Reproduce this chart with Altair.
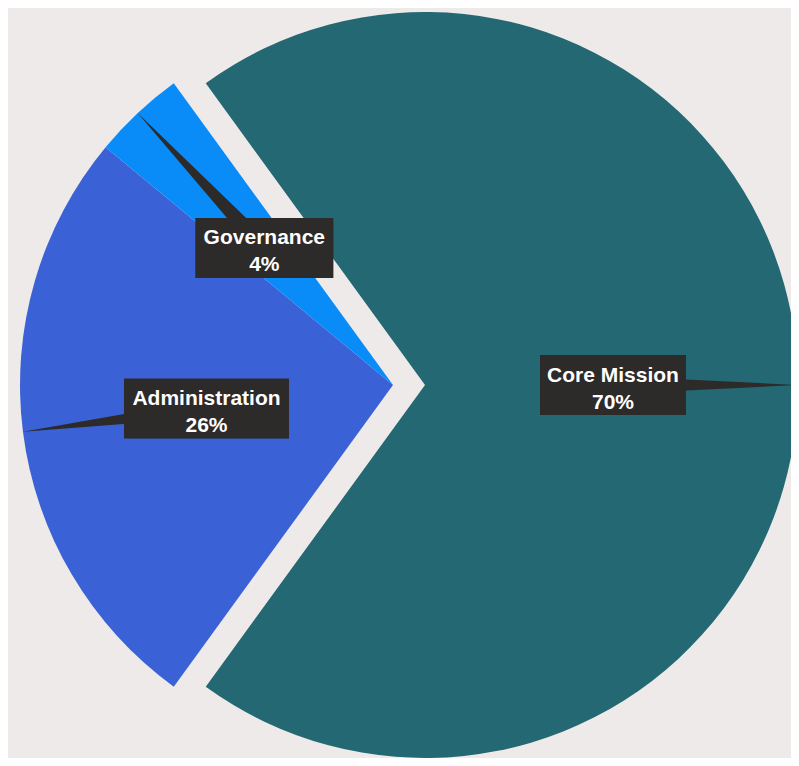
import math
import altair as alt
import pandas as pd

# ---- data ----
categories = ["Core Mission", "Administration", "Governance"]
shares = [0.70, 0.26, 0.04]
order = [0, 1, 2]

df = pd.DataFrame({"category": categories, "share": shares, "order": order})

# ---- layout / style ----
W, H = 783, 750
CX, CY = 385, 377
R = 373
LABEL_R = 188
EXPLODE = 32
TAIL_LEN = R - LABEL_R
START = -math.radians(36)
TWO_PI = 2 * math.pi
colors = ["#236872", "#3a62d6", "#0a8cf8"]
BOX = "#2d2a2a"
BG = "#eeeaea"
BOX_H = 60
LINE_H = 27

box_w_expr = ("datum.category == 'Core Mission' ? 146 : "
              "datum.category == 'Administration' ? 165 : 138")

base = (
    alt.Chart(df)
    .transform_window(cum="sum(share)", sort=[alt.SortField("order")], frame=[None, 0])
    .transform_calculate(t0="datum.cum - datum.share", t1="datum.cum")
    .transform_calculate(mid=f"{START} + {TWO_PI} * (datum.cum - datum.share / 2)")
    .transform_calculate(ex=f"datum.category == 'Core Mission' ? {EXPLODE} : 0")
    .transform_calculate(cx=f"{CX} + datum.ex * sin(datum.mid)")
    .transform_calculate(cy=f"{CY} - datum.ex * cos(datum.mid)")
    .transform_calculate(lx=f"datum.cx + {LABEL_R} * sin(datum.mid)")
    .transform_calculate(ly=f"datum.cy - {LABEL_R} * cos(datum.mid)")
    .transform_calculate(deg="((datum.mid * 180 / PI) % 360 + 360) % 360")
    .transform_calculate(bw=box_w_expr)
    .transform_calculate(bx0="datum.lx - datum.bw / 2", bx1="datum.lx + datum.bw / 2")
    .transform_calculate(by0=f"datum.ly - {BOX_H / 2}", by1=f"datum.ly + {BOX_H / 2}")
    .transform_calculate(txt="datum.category + '\\n' + format(datum.share, '.0%')")
)

xs = alt.Scale(domain=[0, W], range=[0, W], nice=False, zero=False)
ys = alt.Scale(domain=[0, H], range=[0, H], nice=False, zero=False)

arcs = base.mark_arc(outerRadius=R, innerRadius=0).encode(
    theta=alt.Theta("t0:Q", scale=alt.Scale(domain=[0, 1], range=[START, START + TWO_PI])),
    theta2="t1:Q",
    color=alt.Color("category:N", scale=alt.Scale(domain=categories, range=colors), legend=None),
    x=alt.X("cx:Q", scale=xs, axis=None),
    y=alt.Y("cy:Q", scale=ys, axis=None),
)

tails = base.mark_point(
    shape=f"M-9,0L9,0L0,-{TAIL_LEN}Z", filled=True, size=4, opacity=1,
    color=BOX, strokeWidth=0,
).encode(
    x=alt.X("lx:Q", scale=xs, axis=None),
    y=alt.Y("ly:Q", scale=ys, axis=None),
    angle=alt.Angle("deg:Q", scale=None),
)

shadow = base.mark_rect(color="#000000", opacity=0.3, xOffset=3, yOffset=3).encode(
    x=alt.X("bx0:Q", scale=xs, axis=None), x2="bx1:Q",
    y=alt.Y("by0:Q", scale=ys, axis=None), y2="by1:Q",
)

boxes = base.mark_rect(color=BOX, opacity=1).encode(
    x=alt.X("bx0:Q", scale=xs, axis=None), x2="bx1:Q",
    y=alt.Y("by0:Q", scale=ys, axis=None), y2="by1:Q",
)

labels = base.mark_text(
    lineBreak="\n", font="Liberation Sans", fontWeight="bold", fontSize=21,
    lineHeight=LINE_H, dy=-LINE_H / 2 + 4,
    color="white", align="center", baseline="middle",
).encode(
    x=alt.X("lx:Q", scale=xs, axis=None),
    y=alt.Y("ly:Q", scale=ys, axis=None),
    text="txt:N",
)

chart = (
    alt.layer(arcs, tails, shadow, boxes, labels)
    .properties(width=W, height=H, padding=0, autosize=alt.AutoSizeParams(type="none"),
                background=BG)
    .configure_view(stroke=None)
)

chart.save("out.html", embed_options={"renderer": "svg", "actions": False})
